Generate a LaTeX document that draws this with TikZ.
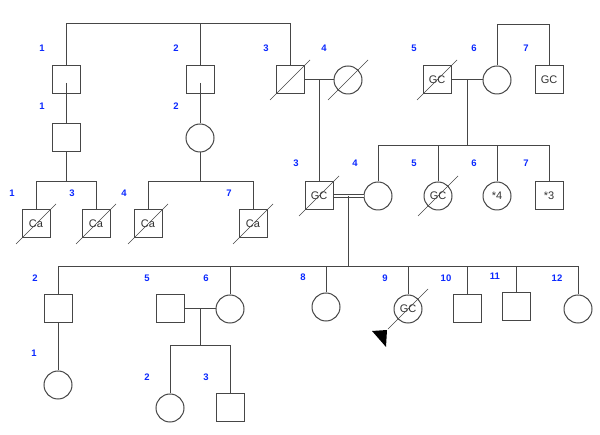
\documentclass[tikz,border=0pt]{standalone}
\usepackage{fontspec}
\setmainfont{Liberation Sans}
\usetikzlibrary{calc}
\definecolor{ln}{RGB}{70,70,70}
\definecolor{lbl}{RGB}{10,40,255}
\tikzset{
  x=1pt, y=-1pt,
  every path/.style={draw=ln, line width=1pt},
  sq/.style={draw=ln, line width=1pt, rectangle, minimum size=28pt, inner sep=0pt, fill=white, font=\fontsize{11}{12}\selectfont, text=black!80},
  ci/.style={draw=ln, line width=1pt, circle, minimum size=28pt, inner sep=0pt, fill=white, font=\fontsize{11}{12}\selectfont, text=black!80},
  num/.style={font=\fontsize{9.5}{10}\bfseries\selectfont, text=lbl, inner sep=0pt},
  slash/.style={draw=ln, line width=0.7pt},
  dbl/.style={draw=ln, double=white, double distance=1.8pt, line width=0.8pt}
}
\newcommand{\dead}[1]{\draw[slash] ($(#1)+(-20,20)$) -- ($(#1)+(20,-20)$);}
\begin{document}
\begin{tikzpicture}
\useasboundingbox[draw=none] (0,0) rectangle (600,435);
% Generation I
\node[sq] (a1) at (66,80) {};
\node[sq] (a2) at (200,80) {};
\node[sq] (a3) at (290,80) {};
\node[ci] (a4) at (348,80) {};
\node[sq] (a5) at (437,80) {GC};
\node[ci] (a6) at (497,80) {};
\node[sq] (a7) at (549,80) {GC};
\coordinate (t) at (200,24);
\coordinate (t2) at (497,25);
\coordinate (m34) at (319,80);
\coordinate (m56) at (467,80);
% Generation II
\node[sq] (b1) at (66,138) {};
\node[ci] (b2) at (200,138) {};
\node[sq] (b3) at (319,196) {GC};
\node[ci] (b4) at (378,196) {};
\node[ci] (b5) at (438,196) {GC};
\node[ci] (b6) at (497,196) {*4};
\node[sq] (b7) at (549,196) {*3};
\coordinate (s2) at (467,146);
\coordinate (mb) at (348,196);
% Generation III (left)
\node[sq] (c1) at (36,224) {Ca};
\node[sq] (c2) at (96,224) {Ca};
\node[sq] (c3) at (148,224) {Ca};
\node[sq] (c4) at (253,224) {Ca};
\coordinate (sc1) at (66,182);
\coordinate (sc2) at (200,182);
% Generation III (bottom)
\coordinate (s3) at (348,267);
\node[sq] (d2) at (58,309) {};
\node[sq] (d5) at (170,309) {};
\node[ci] (d6) at (230,309) {};
\node[ci] (d8) at (326,307) {};
\node[ci] (d9) at (408,309) {GC};
\node[sq] (d10) at (467,309) {};
\node[sq] (d11) at (516,307) {};
\node[ci] (d12) at (578,309) {};
\coordinate (md) at (200,309);
\coordinate (s4) at (200,346);
% Generation IV
\node[ci] (e1) at (58,385) {};
\node[ci] (e2) at (170,408) {};
\node[sq] (e3) at (230,408) {};

% connectors generation I
\draw (a1.north) -- (a1.north |- t) -- (a3.north |- t) -- (a3.north);
\draw (t) -- (a2.north);
\draw (a3.east) -- (a4.west);
\draw (a5.east) -- (a6.west);
\draw (a6.north) -- (a6.north |- t2) -- (a7.north |- t2) -- (a7.north);
\draw (m34) -- (b3.north);
\draw (m56) -- (s2);
\draw ($(a1.center)+(0,3)$) -- (b1.north);
\draw ($(a2.center)+(0,3)$) -- (b2.north);
% generation II
\draw (b4.north) -- (b4.north |- s2) -- (b7.north |- s2) -- (b7.north);
\draw (b5.north) -- (b5.north |- s2);
\draw (b6.north) -- (b6.north |- s2);
\draw[dbl] (b3.east) -- (b4.west);
\draw (mb) -- (s3);
\draw (b1.south) -- (sc1);
\draw (c1.north) -- (c1.north |- sc1) -- (c2.north |- sc1) -- (c2.north);
\draw (b2.south) -- (sc2);
\draw (c3.north) -- (c3.north |- sc2) -- (c4.north |- sc2) -- (c4.north);
% generation III
\draw (d2.north) -- (d2.north |- s3) -- (d12.north |- s3) -- (d12.north);
\draw (d6.north) -- (d6.north |- s3);
\draw (d8.north) -- (d8.north |- s3);
\draw (d9.north) -- (d9.north |- s3);
\draw (d10.north) -- (d10.north |- s3);
\draw (d11.north) -- (d11.north |- s3);
\draw (d5.east) -- (d6.west);
\draw (md) -- (s4);
\draw (e2.north) -- (e2.north |- s4) -- (e3.north |- s4) -- (e3.north);
\draw (d2.south) -- (e1.north);

% deceased slashes
\dead{a3}\dead{a4}\dead{a5}
\dead{b3}\dead{b5}
\dead{c1}\dead{c2}\dead{c3}\dead{c4}
\dead{d9}
% proband arrow
\fill[black, draw=none] ($(d9)+(-36,22)$) -- ($(d9)+(-21,21)$) -- ($(d9)+(-22,38)$) -- cycle;

% labels
\node[num] at (42,48) {1};
\node[num] at (176,48) {2};
\node[num] at (266,48) {3};
\node[num] at (324,48) {4};
\node[num] at (414,48) {5};
\node[num] at (474,48) {6};
\node[num] at (526,48) {7};
\node[num] at (42,106) {1};
\node[num] at (176,106) {2};
\node[num] at (296,163) {3};
\node[num] at (355,163) {4};
\node[num] at (414,163) {5};
\node[num] at (474,163) {6};
\node[num] at (526,163) {7};
\node[num] at (12,193) {1};
\node[num] at (72,193) {3};
\node[num] at (124,193) {4};
\node[num] at (229,193) {7};
\node[num] at (35,278) {2};
\node[num] at (147,278) {5};
\node[num] at (206,278) {6};
\node[num] at (303,277) {8};
\node[num] at (385,278) {9};
\node[num] at (446,278) {10};
\node[num] at (495,276) {11};
\node[num] at (557,278) {12};
\node[num] at (34,353) {1};
\node[num] at (147,377) {2};
\node[num] at (206,377) {3};
\end{tikzpicture}
\end{document}
